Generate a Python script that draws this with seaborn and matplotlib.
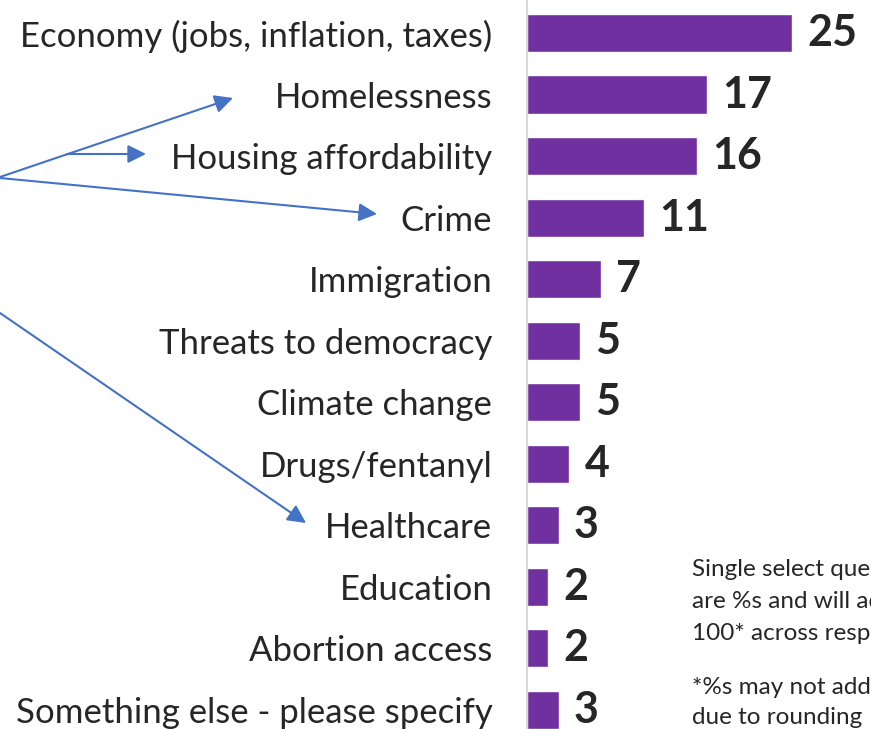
import matplotlib
matplotlib.use("Agg")
import matplotlib.pyplot as plt
import seaborn as sns
import pandas as pd

# Datos del gráfico
categories = [
    "Economy (jobs, inflation, taxes)",
    "Homelessness",
    "Housing affordability",
    "Crime",
    "Immigration",
    "Threats to democracy",
    "Climate change",
    "Drugs/fentanyl",
    "Healthcare",
    "Education",
    "Abortion access",
    "Something else - please specify",
]
values = [25, 17, 16, 11, 7, 5, 5, 4, 3, 2, 2, 3]

note_1 = ["Single select question, values", "are %s and will add up to",
          "100* across responses"]
note_2 = ["*%s may not add up to 100", "due to rounding"]

sns.set_style("white")
plt.rcParams['font.family'] = ['Lato', 'DejaVu Sans']

df = pd.DataFrame({"issue": categories, "pct": values})

W, H = 871, 729
fig = plt.figure(figsize=(W / 100, H / 100), dpi=100)
ax = fig.add_axes([527 / W, 0, 1 - 527 / W, 1])
sns.barplot(data=df, y="issue", x="pct", color="#7030A0", saturation=1,
            width=0.62, ax=ax)

ax.set_xlim(0, (W - 527) / 10.6)
ax.set_ylim(11.31, -0.536)
ax.set_xticks([])
ax.set_xlabel("")
ax.set_ylabel("")
ax.tick_params(axis="y", length=0, pad=25, labelsize=25)
for s in ["top", "right", "bottom"]:
    ax.spines[s].set_visible(False)
ax.spines["left"].set_color("#D9D9D9")
ax.spines["left"].set_linewidth(1.5)

ax.bar_label(ax.containers[0], padding=11, fontsize=31, fontweight="bold")

# Capa para flechas y notas (coordenadas en píxeles)
ov = fig.add_axes([0, 0, 1, 1])
ov.set_xlim(0, W)
ov.set_ylim(H, 0)
ov.axis("off")
ov.patch.set_visible(False)

arrow_kw = dict(arrowstyle="-|>,head_length=0.5,head_width=0.25",
                color="#4472C4", lw=1.5, mutation_scale=22, shrinkA=0, shrinkB=0)
arrows = [((0, 177), (233, 98)), ((67, 154), (146, 154)),
          ((0, 178), (377, 214)), ((0, 313), (306, 523))]
for start, end in arrows:
    ov.annotate("", xy=end, xytext=start, arrowprops=arrow_kw)

# notas: una línea por texto
for i, line in enumerate(note_1):
    ov.text(692, 568 + 31.5 * i, line, fontsize=17.5, va="center_baseline", ha="left")
for i, line in enumerate(note_2):
    ov.text(692, 686 + 29 * i, line, fontsize=17.5, va="center_baseline", ha="left")

fig.savefig("out.png", dpi=100)
